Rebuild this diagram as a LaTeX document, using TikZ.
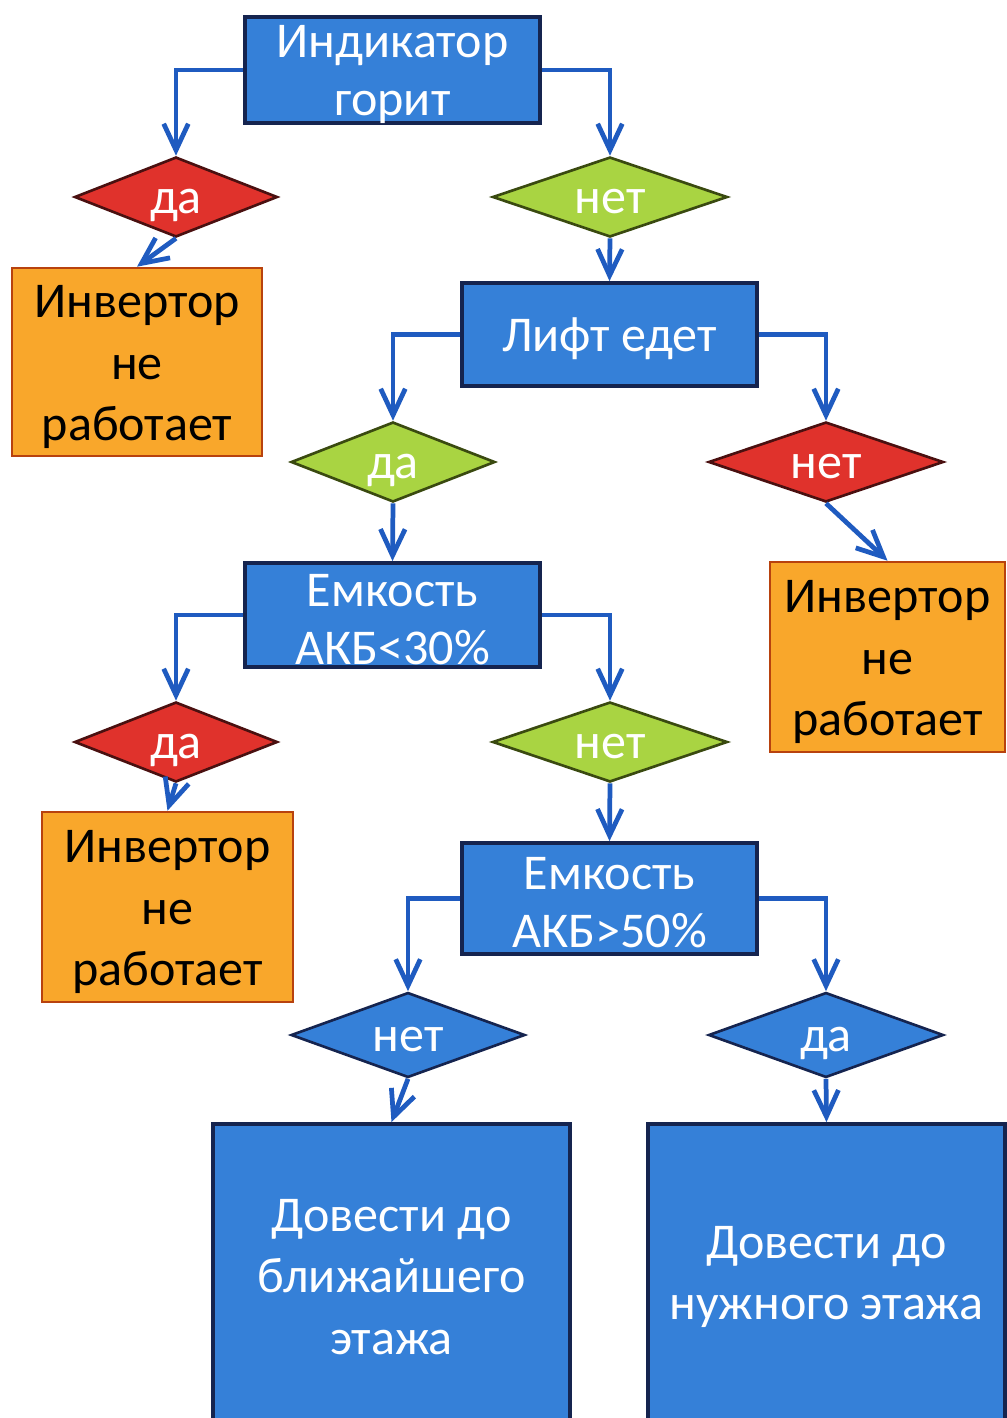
\documentclass[tikz,border=0pt]{standalone}
\usepackage{fontspec}
\setmainfont{Carlito}
\usetikzlibrary{shapes.geometric,arrows.meta}

\definecolor{boxblue}{HTML}{3580D8}
\definecolor{boxline}{HTML}{15244F}
\definecolor{arrowblue}{HTML}{1F5BC0}
\definecolor{redfill}{HTML}{E0322C}
\definecolor{redline}{HTML}{4A1010}
\definecolor{greenfill}{HTML}{A9D442}
\definecolor{greenline}{HTML}{3A4A10}
\definecolor{failfill}{HTML}{F9A72B}
\definecolor{failline}{HTML}{B8420E}

\newcommand{\firstline}{\rule{0pt}{24pt}}

\tikzset{
  bigtext/.style={font=\fontsize{28.5}{33}\selectfont},
  proc/.style={draw=boxline,fill=boxblue,line width=2.2pt,text=white,align=center,inner sep=0pt,bigtext},
  fail/.style={draw=failline,fill=failfill,line width=1.5pt,text=black,align=center,inner sep=0pt,font=\fontsize{28.5}{35}\selectfont},
  dec/.style={diamond,shape aspect=2.7,inner sep=0pt,line width=1.5pt,text=white,bigtext,text height=19pt,text depth=0pt,minimum height=1.6cm},
  decred/.style={dec,draw=redline,fill=redfill},
  decgreen/.style={dec,draw=greenline,fill=greenfill},
  decblue/.style={dec,draw=boxline,fill=boxblue,minimum height=1.7cm},
  flow/.style={arrowblue,line width=2.7pt,-{Straight Barb[length=15pt,width=14pt]}}
}

\begin{document}
\begin{tikzpicture}[x=0.02cm,y=-0.02cm]
  \useasboundingbox (0,0) rectangle (1007,1418);
  \clip (0,0) rectangle (1007,1418);

  \node[proc,minimum width=5.9cm,minimum height=2.08cm] (ind) at (392.5,70) {\strut Индикатор\\горит};
  \node[decred,minimum width=4.06cm] (da1) at (176,197) {да};
  \node[decgreen,minimum width=4.7cm] (net1) at (610,197) {нет};
  \node[fail,minimum width=5cm,minimum height=3.76cm] (inv1) at (137,362) {\firstline Инвертор\\не\\работает};

  \node[proc,minimum width=5.9cm,minimum height=2.06cm,text depth=0pt] (lift) at (609.5,334.5) {Лифт едет};
  \node[decgreen,minimum width=4.08cm] (da2) at (393,462) {да};
  \node[decred,minimum width=4.7cm] (net2) at (826,462) {нет};
  \node[fail,minimum width=4.7cm,minimum height=3.8cm] (inv2) at (887.5,657) {\firstline Инвертор\\не\\работает};

  \node[proc,minimum width=5.9cm,minimum height=2.08cm] (cap1) at (392.5,615) {\strut Емкость\\АКБ<30\%};
  \node[decred,minimum width=4.06cm] (da3) at (176,742) {да};
  \node[decgreen,minimum width=4.7cm] (net3) at (610,742) {нет};
  \node[fail,minimum width=5.02cm,minimum height=3.8cm] (inv3) at (167.5,907) {\firstline Инвертор\\не\\работает};

  \node[proc,minimum width=5.9cm,minimum height=2.22cm] (cap2) at (609.5,898.5) {\strut Емкость\\АКБ>50\%};
  \node[decblue,minimum width=4.68cm] (net4) at (408,1035) {нет};
  \node[decblue,minimum width=4.7cm] (da4) at (826,1035) {да};
  \node[proc,minimum width=7.14cm,minimum height=6.12cm,font=\fontsize{28.5}{35}\selectfont] (near) at (391.5,1277) {Довести до\\ближайшего\\этажа};
  \node[proc,minimum width=7.14cm,minimum height=6.12cm,font=\fontsize{28.5}{35}\selectfont] (need) at (826.5,1277) {Довести до\\нужного этажа};

  \draw[flow] (ind.west) -| (da1.north);
  \draw[flow] (ind.east) -| (net1.north);
  \draw[flow] (da1.south) -- (inv1.north);
  \draw[flow] (net1.south) -- (lift.north);

  \draw[flow] (lift.west) -| (da2.north);
  \draw[flow] (lift.east) -| (net2.north);
  \draw[flow] (net2.south) -- (inv2.north);
  \draw[flow] (da2.south) -- (cap1.north);

  \draw[flow] (cap1.west) -| (da3.north);
  \draw[flow] (cap1.east) -| (net3.north);
  \draw[flow] (da3.south) -- (inv3.north);
  \draw[flow] (net3.south) -- (cap2.north);

  \draw[flow] (cap2.west) -| (net4.north);
  \draw[flow] (cap2.east) -| (da4.north);
  \draw[flow] (net4.south) -- (near.north);
  \draw[flow] (da4.south) -- (need.north);
\end{tikzpicture}
\end{document}
